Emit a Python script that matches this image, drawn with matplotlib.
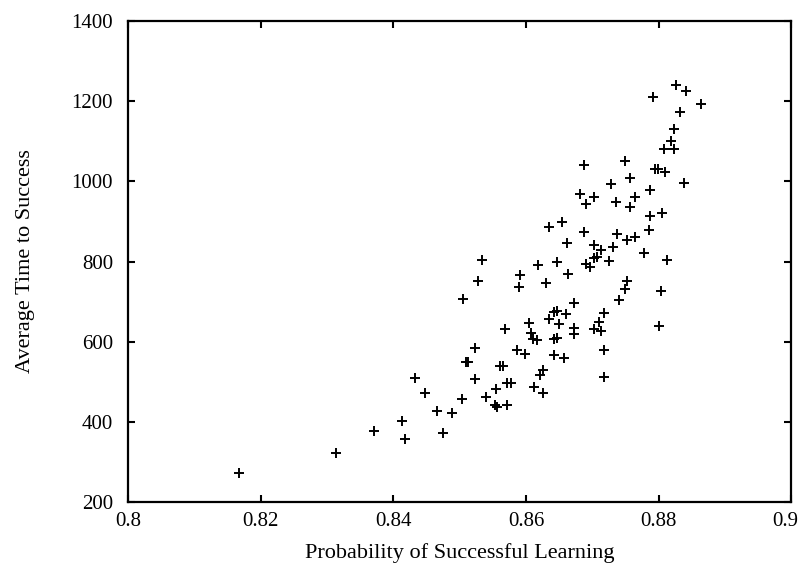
#!/usr/bin/env python3
"""Scatter of average time to success against probability of successful learning."""

import matplotlib

matplotlib.use("Agg")
import matplotlib.pyplot as plt
from matplotlib.transforms import ScaledTranslation

prob_success = [
    0.8167, 0.8313, 0.8371, 0.8413, 0.8417, 0.8433, 0.8448, 0.8465, 0.8475, 0.8488,
    0.8503, 0.8505, 0.8509, 0.8513, 0.8523, 0.8523, 0.8528, 0.8534, 0.8540, 0.8553,
    0.8556, 0.8555, 0.8561, 0.8565, 0.8568, 0.8571, 0.8578, 0.8572, 0.8587, 0.8589,
    0.8591, 0.8599, 0.8605, 0.8607, 0.8610, 0.8617, 0.8612, 0.8618, 0.8621, 0.8625,
    0.8626, 0.8630, 0.8635, 0.8634, 0.8642, 0.8647, 0.8642, 0.8646, 0.8650, 0.8642,
    0.8658, 0.8647, 0.8655, 0.8660, 0.8662, 0.8664, 0.8672, 0.8673, 0.8672, 0.8682,
    0.8688, 0.8690, 0.8687, 0.8690, 0.8697, 0.8702, 0.8702, 0.8707, 0.8713, 0.8703,
    0.8702, 0.8710, 0.8713, 0.8718, 0.8718, 0.8717, 0.8725, 0.8728, 0.8731, 0.8735,
    0.8737, 0.8741, 0.8750, 0.8752, 0.8750, 0.8752, 0.8757, 0.8757, 0.8764, 0.8764,
    0.8778, 0.8785, 0.8787, 0.8787, 0.8792, 0.8795, 0.8799, 0.8801, 0.8803, 0.8805,
    0.8808, 0.8809, 0.8813, 0.8819, 0.8823, 0.8823, 0.8827, 0.8832, 0.8839, 0.8842,
    0.8864,
]
avg_time = [
    273, 323, 377, 403, 357, 509, 472, 427, 372, 421,
    458, 706, 548, 550, 583, 507, 752, 805, 461, 441,
    438, 482, 538, 538, 631, 496, 496, 442, 578, 737,
    767, 568, 647, 621, 606, 603, 487, 791, 518, 528,
    473, 746, 885, 657, 674, 677, 607, 610, 645, 567,
    558, 799, 899, 668, 847, 769, 696, 633, 619, 969,
    1040, 944, 873, 794, 786, 842, 808, 812, 828, 962,
    631, 649, 627, 672, 578, 511, 802, 994, 837, 949,
    869, 704, 1051, 752, 731, 854, 1008, 935, 961, 860,
    822, 879, 914, 978, 1211, 1030, 1032, 639, 727, 922,
    1082, 1023, 805, 1101, 1082, 1132, 1240, 1172, 997, 1226,
    1192,
]

x_ticks = [0.8, 0.82, 0.84, 0.86, 0.88, 0.9]
x_tick_labels = ["0.8", "0.82", "0.84", "0.86", "0.88", "0.9"]
y_ticks = [200, 400, 600, 800, 1000, 1200, 1400]

plt.rcParams["font.family"] = ["Liberation Serif", "DejaVu Serif"]

fig = plt.figure(figsize=(8.02, 5.71), dpi=100)
ax = fig.add_axes([0.16, 0.121, 0.8265, 0.842])

ax.plot(prob_success, avg_time, "+", color="black", markersize=7, markeredgewidth=1.4)

ax.set_xlim(0.8, 0.9)
ax.set_ylim(200, 1400)
ax.set_xticks(x_ticks)
ax.set_xticklabels(x_tick_labels)
ax.set_yticks(y_ticks)
ax.tick_params(direction="in", length=5, width=1.5, top=True, right=True, labelsize=15)
ax.tick_params(axis="x", pad=7)
ax.tick_params(axis="y", pad=11)
for spine in ax.spines.values():
    spine.set_linewidth(1.6)

# the last x label sits right at the figure edge, nudge it inside
last_label = ax.get_xticklabels()[-1]
last_label.set_transform(last_label.get_transform() + ScaledTranslation(-4 / 72, 0, fig.dpi_scale_trans))

ax.set_xlabel("Probability of Successful Learning", fontsize=16, labelpad=9)
ax.set_ylabel("Average Time to Success", fontsize=16, labelpad=26)

fig.savefig("out.png", dpi=100)
